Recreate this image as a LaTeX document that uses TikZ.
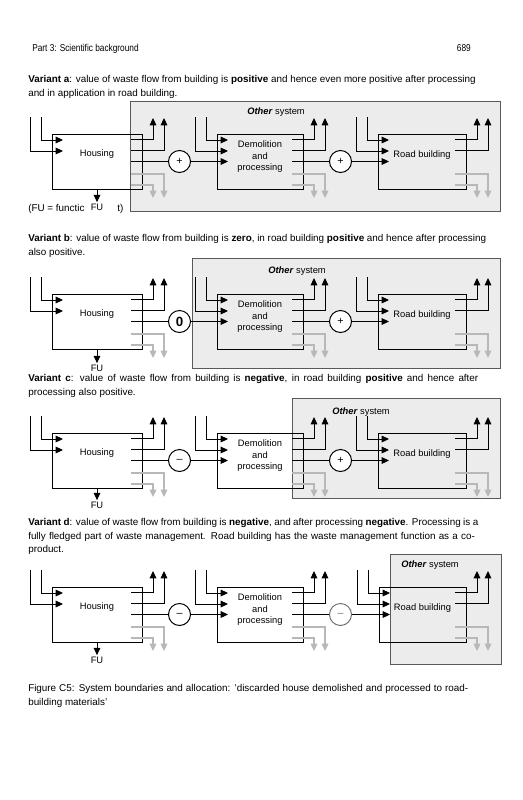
\documentclass[tikz,border=0pt]{standalone}
\usepackage{fontspec}
\setmainfont{Liberation Sans}
\newfontfamily\headfont[FakeStretch=0.83]{Liberation Sans}
\usetikzlibrary{arrows.meta,calc}
\definecolor{sysfill}{gray}{0.925}
\definecolor{sysdraw}{gray}{0.35}
\definecolor{glight}{gray}{0.72}
\tikzset{
  ln/.style={line width=0.75pt, -{Triangle[length=5.5pt,width=5pt]}},
  plain/.style={line width=0.75pt},
  gln/.style={line width=0.9pt, draw=glight, -{Triangle[length=5.5pt,width=5pt]}},
  pbox/.style={draw, line width=0.75pt, minimum height=41.25pt, inner sep=0pt, outer sep=0pt},
  plbl/.style={font=\fontsize{7}{8.6}\selectfont, align=center, inner sep=0pt},
  sysbox/.style={draw=sysdraw, fill=sysfill, line width=0.75pt},
  syslbl/.style={font=\fontsize{7}{8.6}\selectfont, inner sep=0pt},
  sumc/.style={circle, draw, fill=white, line width=0.75pt, minimum size=16.5pt, inner sep=0pt, font=\fontsize{8}{9}\selectfont},
  fulbl/.style={font=\fontsize{7}{8.6}\selectfont, inner sep=1pt},
  txt/.style={anchor=base west, inner sep=0pt, font=\fontsize{7.4}{9}\selectfont},
  head/.style={inner sep=0pt, font=\headfont\fontsize{7.5}{9}\selectfont}
}
% #1 name, #2 left x, #3 right x, #4 label, #5 label y-offset
\newcommand\procbox[5]{%
  \node[pbox, minimum width={(#3-#2)*0.75pt}] (#1) at ({(#2+#3)/2},161.5) {};
  \node[plbl] (#1l) at ($(#1.center)+(0,#5)$) {#4};
  \draw[ln] ({#2-22},117) |- ({#2+11},151);
  \draw[ln] ({#2-11},117) |- ({#2+11},140);
  \draw[ln] ({#3-11},139) -| ({#3+11},118);
  \draw[ln] ({#3-11},150) -| ({#3+22},118);
  \draw[gln] ({#3-11},174) -| ({#3+22},198);
  \draw[gln] ({#3-11},185) -| ({#3+11},198);
  \coordinate (#1in) at ({#2+11},161.5);
  \coordinate (#1out) at ({#3-11},161.5);
}
\begin{document}
\begin{tikzpicture}[x=0.75pt,y=-0.75pt]
\fill[white] (0,0) rectangle (522,800);
\useasboundingbox (0,0) rectangle (522,800);

\node[head, anchor=base west] (hdr) at (32,51) {Part 3: Scientific background};
\node[head, anchor=base east] (pg) at (471,51) {689};

% texts
\node[txt] (ta1) at (28,82.5) {\textbf{Variant a}: value of waste flow from building is \textbf{positive} and hence even more positive after processing};
\node[txt] (ta2) at (28,96.5) {and in application in road building.};
\node[txt] (tb1) at (28,241.5) {\textbf{Variant b}: value of waste flow from building is \textbf{zero}, in road building \textbf{positive} and hence after processing};
\node[txt] (tb2) at (28,255) {also positive.};
\node[txt] (tc1) at (28,381.5) {\makebox[337.5pt][s]{\textbf{Variant c}: value of waste flow from building is \textbf{negative}, in road building \textbf{positive} and hence after}};
\node[txt] (tc2) at (28,395) {processing also positive.};
\node[txt] (td1) at (28,525.5) {\makebox[337.5pt][s]{\textbf{Variant d}: value of waste flow from building is \textbf{negative}, and after processing \textbf{negative}. Processing is a}};
\node[txt] (td2) at (28,539.5) {\makebox[335pt][s]{fully fledged part of waste management. Road building has the waste management function as a co-}};
\node[txt] (td3) at (28,552.5) {product.};
\node[txt] (cap1) at (28,691.5) {\makebox[330pt][s]{Figure C5: System boundaries and allocation: 'discarded house demolished and processed to road-}};
\node[txt] (cap2) at (28,705.5) {building materials'};

% ---------- Variant a ----------
\begin{scope}
  \path[sysbox] (130,101) rectangle (500,211);
  \node[syslbl] (Sa) at (276,112) {\textbf{\textit{Other}} system};
  \procbox{Ha}{52}{142}{Housing}{-7.5}
  \procbox{Da}{217}{303}{Demolition\\and\\processing}{-4.5}
  \procbox{Ra}{378}{466}{Road building}{-6.5}
  \node[sumc] (c1a) at (179.5,161.5) {+};
  \node[sumc] (c2a) at (340.5,161.5) {+};
  \draw[plain] (Haout) -- (c1a);
  \draw[ln] (c1a) -- (Dain);
  \draw[plain] (Daout) -- (c2a);
  \draw[ln] (c2a) -- (Rain);
  \node[txt] (fua1) at (28,211) {(FU = functic};
  \node[txt] (fua2) at (117,211) {t)};
  \node[fulbl] (FUa) at (97,207) {FU};
  \draw[ln] (Ha.south) -- (FUa.north);
\end{scope}

% ---------- Variant b ----------
\begin{scope}[shift={(0,160)}]
  \path[sysbox] (192,98) rectangle (500,208);
  \node[syslbl] (Sb) at (297,111) {\textbf{\textit{Other}} system};
  \procbox{Hb}{52}{142}{Housing}{-7.5}
  \procbox{Db}{217}{303}{Demolition\\and\\processing}{-4.5}
  \procbox{Rb}{378}{466}{Road building}{-6.5}
  \node[sumc] (c1b) at (179.5,161.5) {\textbf{\fontsize{10}{11}\selectfont 0}};
  \node[sumc] (c2b) at (340.5,161.5) {+};
  \draw[plain] (Hbout) -- (c1b);
  \draw[ln] (c1b) -- (Dbin);
  \draw[plain] (Dbout) -- (c2b);
  \draw[ln] (c2b) -- (Rbin);
  \node[fulbl] (FUb) at (97,208) {FU};
  \draw[ln] (Hb.south) -- (FUb.north);
\end{scope}

% ---------- Variant c ----------
\begin{scope}[shift={(0,299)}]
  \path[sysbox] (292,99) rectangle (500,199);
  \node[syslbl] (Sc) at (361,113) {\textbf{\textit{Other}} system};
  \procbox{Hc}{52}{142}{Housing}{-7.5}
  \procbox{Dc}{217}{303}{Demolition\\and\\processing}{-4.5}
  \procbox{Rc}{378}{466}{Road building}{-6.5}
  \node[sumc] (c1c) at (179.5,161.5) {--};
  \node[sumc] (c2c) at (340.5,161.5) {+};
  \draw[plain] (Hcout) -- (c1c);
  \draw[ln] (c1c) -- (Dcin);
  \draw[plain] (Dcout) -- (c2c);
  \draw[ln] (c2c) -- (Rcin);
  \node[fulbl] (FUc) at (97,206) {FU};
  \draw[ln] (Hc.south) -- (FUc.north);
\end{scope}

% ---------- Variant d ----------
\begin{scope}[shift={(0,453)}]
  \path[sysbox] (390,101) rectangle (501,211);
  \node[syslbl] (Sd) at (430,112) {\textbf{\textit{Other}} system};
  \procbox{Hd}{52}{142}{Housing}{-7.5}
  \procbox{Dd}{217}{303}{Demolition\\and\\processing}{-4.5}
  \procbox{Rd}{379}{466}{Road building}{-6.5}
  \node[sumc] (c1d) at (179.5,161.5) {--};
  \node[sumc, draw=black!55, text=black!55] (c2d) at (340.5,161.5) {--};
  \draw[plain] (Hdout) -- (c1d);
  \draw[ln] (c1d) -- (Ddin);
  \draw[plain] (Ddout) -- (c2d);
  \draw[ln] (c2d) -- (Rdin);
  \node[fulbl] (FUd) at (97,207) {FU};
  \draw[ln] (Hd.south) -- (FUd.north);
\end{scope}
\end{tikzpicture}
\end{document}
